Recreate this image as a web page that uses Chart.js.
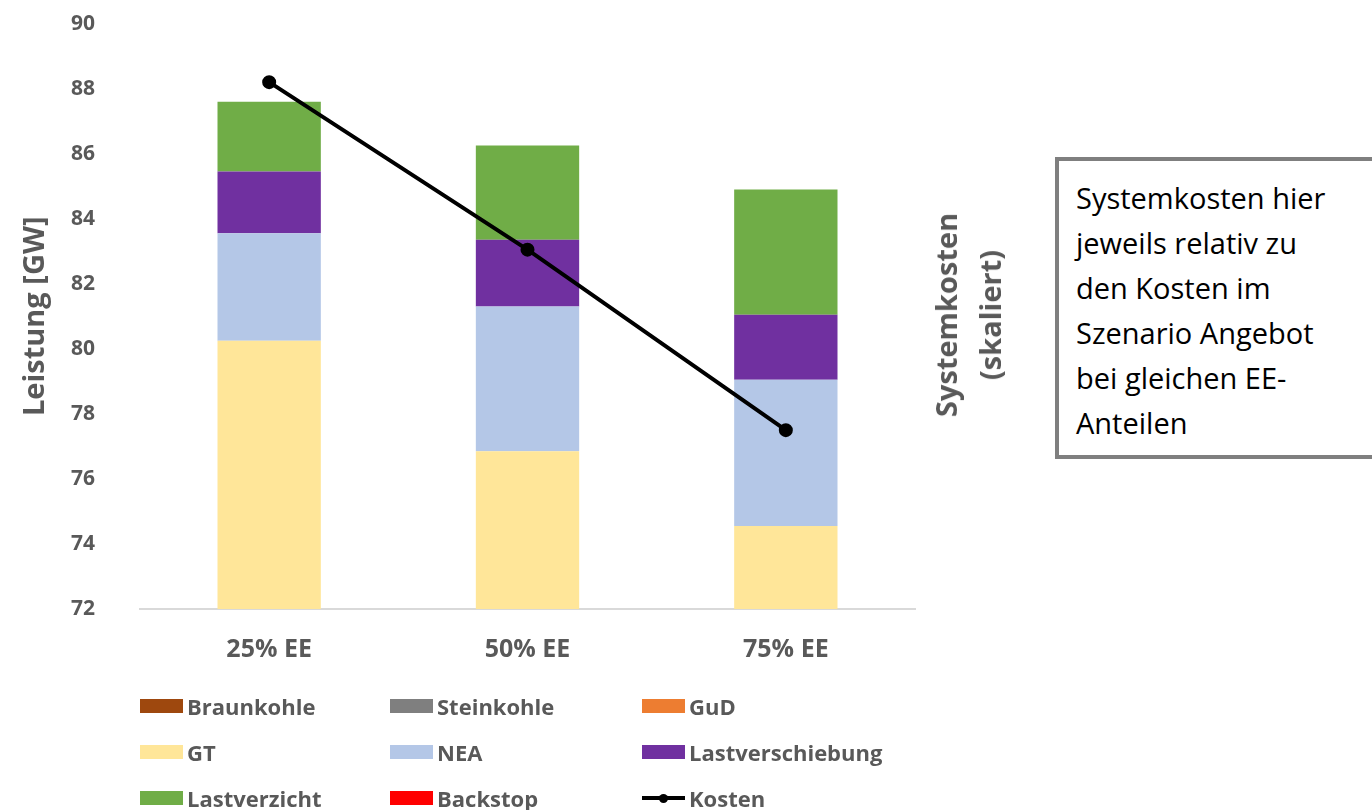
<!DOCTYPE html>
<html>
<head>
<meta charset="utf-8">
<script src="https://cdn.jsdelivr.net/npm/chart.js@4"></script>
<style>
  body { margin: 0; background: #fff; width: 1372px; height: 810px; overflow: hidden; position: relative; font-family: "Open Sans", sans-serif; }
  #wrap { position: absolute; left: 0; top: -34px; width: 930px; height: 739px; }
  #sideTitle { position: absolute; left: 968px; top: 315px; transform: translate(-50%, -50%) rotate(-90deg); color: #595959; font: bold 29px "Open Sans", sans-serif; text-align: center; line-height: 44px; white-space: nowrap; }
  #note { position: absolute; left: 1055px; top: 157px; width: 330px; height: 302px; border: 4px solid #7f7f7f; box-sizing: border-box; padding: 14px 0 0 17px; font: 29px "Open Sans", sans-serif; line-height: 45px; color: #000; }
  #legend { position: absolute; left: 140px; top: 692px; display: grid; grid-template-columns: 250px 252px 260px; row-gap: 18px; }
  .item { display: flex; align-items: center; height: 28px; color: #595959; font: bold 22px "Open Sans", sans-serif; }
  .box { width: 43px; height: 14px; margin-right: 4px; }
  .line { width: 43px; height: 14px; margin-right: 4px; position: relative; }
  .line:before { content: ""; position: absolute; left: 0; right: 0; top: 5px; height: 4px; background: #000; }
  .line:after { content: ""; position: absolute; left: 17px; top: 3px; width: 9px; height: 9px; border-radius: 50%; background: #000; }
</style>
</head>
<body>
<div id="wrap"><canvas id="c"></canvas></div>
<div id="sideTitle">Systemkosten<br>(skaliert)</div>
<div id="note">Systemkosten hier<br>jeweils relativ zu<br>den Kosten im<br>Szenario Angebot<br>bei gleichen EE-<br>Anteilen</div>
<div id="legend"></div>
<script>
const categories = ['25% EE', '50% EE', '75% EE'];
const braunkohle = [0, 0, 0];
const steinkohle = [0, 0, 0];
const gud = [0, 0, 0];
const gt = [80.25, 76.85, 74.55];
const nea = [3.3, 4.45, 4.5];
const lastverschiebung = [1.9, 2.05, 2.0];
const lastverzicht = [2.15, 2.9, 3.85];
const backstop = [0, 0, 0];
const kosten = [88.2, 83.05, 77.5];
const yTicks = [72, 74, 76, 78, 80, 82, 84, 86, 88, 90];

function barSet(label, data, color) {
    return { type: 'bar', label: label, data: data, backgroundColor: color, stack: 's', yAxisID: 'y', order: 2 };
}

const datasets = [
    barSet('Braunkohle', braunkohle, '#9e480e'),
    barSet('Steinkohle', steinkohle, '#7f7f7f'),
    barSet('GuD', gud, '#ed7d31'),
    barSet('GT', gt, '#ffe699'),
    barSet('NEA', nea, '#b4c7e7'),
    barSet('Lastverschiebung', lastverschiebung, '#7030a0'),
    barSet('Lastverzicht', lastverzicht, '#70ad47'),
    barSet('Backstop', backstop, '#ff0000'),
    {
        type: 'line', label: 'Kosten', data: kosten, yAxisID: 'y1', order: 1,
        borderColor: '#000', backgroundColor: '#000', borderWidth: 4,
        pointRadius: 5, pointBackgroundColor: '#000', tension: 0
    }
];

const ctx = document.getElementById('c').getContext('2d');
const chart = new Chart(ctx, {
    data: { labels: categories, datasets: datasets },
    options: {
        responsive: true,
        maintainAspectRatio: false,
        animation: false,
        layout: { padding: { top: 20, bottom: 14, right: 15, left: 0 } },
        plugins: { legend: { display: false }, tooltip: { enabled: false } },
        datasets: { bar: { barPercentage: 1, categoryPercentage: 0.4 } },
        scales: {
            x: {
                stacked: true,
                grid: { display: false, drawTicks: false },
                border: { display: true, color: '#d9d9d9', width: 2, dash: [3, 1] },
                ticks: { color: '#595959', font: { family: 'Open Sans', weight: 'bold', size: 25 }, padding: 26 }
            },
            y: {
                stacked: true,
                min: 72, max: 90,
                afterBuildTicks: s => { s.ticks = yTicks.map(v => ({ value: v })); },
                afterFit: s => { s.width = 140; },
                grid: { display: false, drawTicks: false },
                border: { display: false },
                ticks: { color: '#595959', font: { family: 'Open Sans', weight: 'bold', size: 21 }, padding: 45 },
                title: { display: true, text: 'Leistung [GW]', color: '#595959', font: { family: 'Open Sans', weight: 'bold', size: 29 }, padding: { top: 18, bottom: 0 } }
            },
            y1: {
                display: false,
                min: 72, max: 90
            }
        }
    }
});

// legend in three columns like the original
const legend = document.getElementById('legend');
chart.data.datasets.forEach(ds => {
    const item = document.createElement('div');
    item.className = 'item';
    const sw = document.createElement('span');
    if (ds.type === 'line') {
        sw.className = 'line';
    } else {
        sw.className = 'box';
        sw.style.background = ds.backgroundColor;
    }
    item.appendChild(sw);
    item.appendChild(document.createTextNode(ds.label));
    legend.appendChild(item);
});
</script>
</body>
</html>
